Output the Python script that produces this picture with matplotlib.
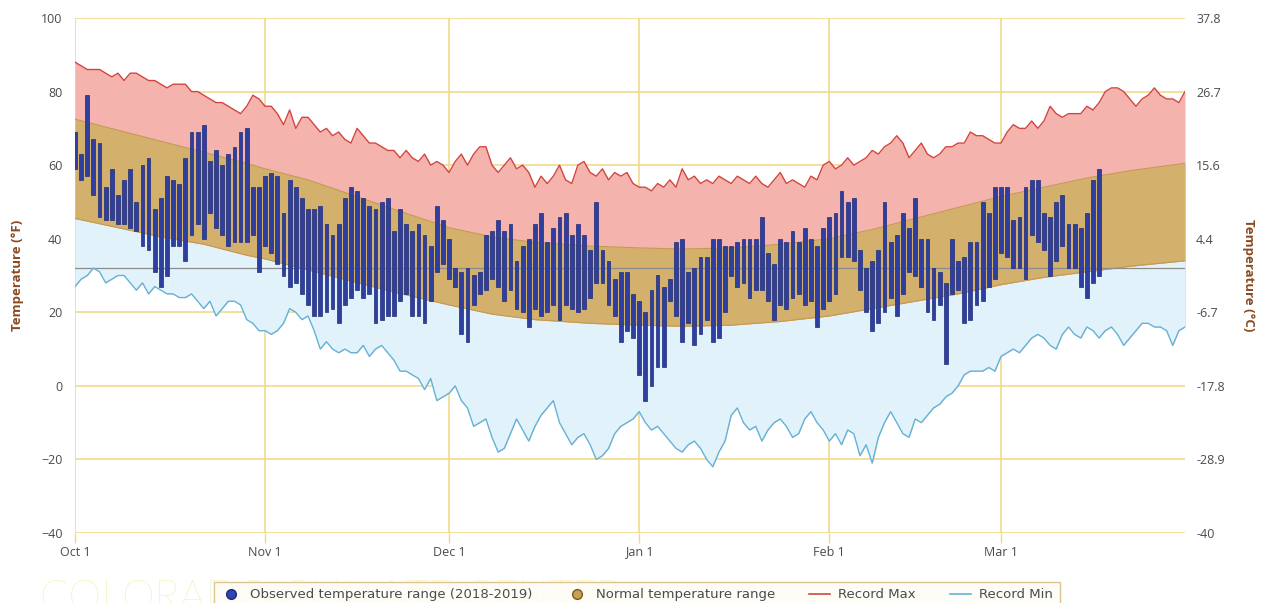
import numpy as np
import pandas as pd
import matplotlib
matplotlib.use("Agg")
import matplotlib.pyplot as plt
from matplotlib.lines import Line2D

# season Oct 1 2018 .. Mar 31 2019, one value per day
days = pd.date_range("2018-10-01", "2019-03-31", freq="D")

record_max = [88, 87, 86, 86, 86, 85, 84, 85, 83, 85, 85, 84, 83, 83, 82, 81, 82, 82, 82, 80,
              80, 79, 78, 77, 77, 76, 75, 74, 76, 79, 78, 76, 76, 74, 71, 75, 70, 73, 73, 71,
              69, 70, 68, 69, 67, 66, 70, 68, 66, 66, 65, 64, 64, 62, 64, 62, 61, 63, 60, 61,
              60, 58, 61, 63, 60, 63, 65, 65, 60, 58, 60, 62, 59, 60, 58, 54, 57, 55, 57, 60,
              56, 55, 60, 61, 58, 57, 59, 56, 58, 57, 58, 55, 54, 54, 53, 55, 54, 56, 54, 59,
              56, 57, 55, 56, 55, 57, 56, 55, 57, 56, 55, 57, 55, 54, 56, 58, 55, 56, 55, 54,
              57, 56, 60, 61, 59, 60, 62, 60, 61, 62, 64, 63, 65, 66, 68, 66, 62, 64, 66, 63,
              62, 63, 65, 65, 66, 66, 69, 68, 68, 67, 66, 66, 69, 71, 70, 70, 72, 70, 72, 76,
              74, 73, 74, 74, 74, 76, 75, 77, 80, 81, 81, 80, 78, 76, 78, 79, 81, 79, 78, 78,
              77, 80]

record_min = [27, 29, 30, 32, 31, 28, 29, 30, 30, 28, 26, 28, 25, 27, 26, 25, 25, 24, 24, 25,
              23, 21, 23, 19, 21, 23, 23, 22, 18, 17, 15, 15, 14, 15, 17, 21, 20, 18, 19, 15,
              10, 12, 10, 9, 10, 9, 9, 11, 8, 10, 11, 9, 7, 4, 4, 3, 2, -1, 2, -4,
              -3, -2, 0, -4, -6, -11, -10, -9, -14, -18, -17, -13, -9, -12, -15, -11, -8, -6, -4, -10,
              -13, -16, -14, -13, -16, -20, -19, -17, -13, -11, -10, -9, -7, -10, -12, -11, -13, -15, -17, -18,
              -16, -15, -17, -20, -22, -18, -15, -8, -6, -10, -12, -11, -15, -12, -10, -9, -11, -14, -13, -9,
              -7, -10, -12, -15, -13, -16, -12, -13, -19, -16, -21, -14, -10, -7, -10, -13, -14, -9, -10, -8,
              -6, -5, -3, -2, 0, 3, 4, 4, 4, 5, 4, 8, 9, 10, 9, 11, 13, 14, 13, 11,
              10, 14, 16, 14, 13, 16, 15, 13, 15, 16, 14, 11, 13, 15, 17, 17, 16, 16, 15, 11,
              15, 16]

# normals
normal_dates = pd.to_datetime(["2018-10-01", "2018-10-08", "2018-10-15", "2018-10-22", "2018-10-29",
                               "2018-11-01", "2018-11-08", "2018-11-15", "2018-11-22", "2018-12-01",
                               "2018-12-08", "2018-12-15", "2018-12-24", "2019-01-01", "2019-01-08",
                               "2019-01-16", "2019-01-24", "2019-02-01", "2019-02-08", "2019-02-15",
                               "2019-02-22", "2019-03-01", "2019-03-08", "2019-03-15", "2019-03-22",
                               "2019-03-31"])
normal_high = [72.5, 69.5, 66.5, 63.5, 60.5, 59, 56, 52, 48, 43, 40.5, 39, 38, 37.5, 37.2,
               37.5, 38.5, 40, 42.5, 45.5, 48.5, 51.5, 54, 56.5, 58.5, 60.5]
normal_low = [45.5, 43, 40.5, 38.5, 35.5, 34.5, 31.5, 28.5, 25.5, 22, 19.5, 18, 17, 16.5, 16.2,
              16.5, 17.5, 19, 21, 23, 25, 27.5, 29.5, 31, 32.5, 34]

# observed 2018-2019, Oct 1 .. Mar 17
obs_high = [69, 63, 79, 67, 66, 54, 59, 52, 56, 59, 50, 60, 62, 48, 51, 57, 56, 55, 62, 69,
            69, 71, 61, 64, 60, 63, 65, 69, 70, 54, 54, 57, 58, 57, 47, 56, 54, 51, 48, 48,
            49, 44, 41, 44, 51, 54, 53, 51, 49, 48, 50, 51, 42, 48, 44, 42, 44, 41, 38, 49,
            45, 40, 32, 31, 32, 30, 31, 41, 42, 45, 42, 44, 34, 38, 40, 44, 47, 39, 43, 46,
            47, 41, 44, 41, 37, 50, 37, 34, 29, 31, 31, 25, 23, 20, 26, 30, 27, 29, 39, 40,
            31, 32, 35, 35, 40, 40, 38, 38, 39, 40, 40, 40, 46, 36, 33, 40, 39, 42, 39, 43,
            40, 38, 43, 46, 47, 53, 50, 51, 37, 32, 34, 37, 50, 39, 41, 47, 43, 51, 40, 40,
            32, 31, 28, 40, 34, 35, 39, 39, 50, 47, 54, 54, 54, 45, 46, 54, 56, 56, 47, 46,
            50, 52, 44, 44, 43, 47, 56, 59]
obs_low = [59, 56, 57, 52, 46, 45, 45, 44, 44, 43, 42, 38, 37, 31, 27, 30, 38, 38, 34, 41,
           44, 40, 47, 43, 41, 38, 39, 39, 39, 41, 31, 38, 36, 33, 30, 27, 28, 25, 22, 19,
           19, 20, 21, 17, 22, 24, 26, 24, 25, 17, 18, 19, 19, 23, 25, 19, 19, 17, 23, 31,
           33, 29, 27, 14, 12, 22, 25, 26, 29, 27, 23, 26, 21, 20, 16, 21, 19, 20, 22, 18,
           22, 21, 20, 21, 24, 28, 28, 22, 19, 12, 15, 13, 3, -4, 0, 5, 5, 23, 19, 12,
           17, 11, 14, 18, 12, 13, 20, 30, 27, 28, 24, 26, 26, 23, 18, 22, 21, 24, 25, 22,
           23, 16, 21, 23, 25, 35, 35, 34, 26, 20, 15, 17, 20, 24, 19, 25, 31, 30, 27, 20,
           18, 22, 6, 25, 26, 17, 18, 22, 23, 27, 29, 36, 35, 32, 32, 29, 41, 39, 37, 30,
           34, 38, 32, 32, 27, 24, 28, 30]

month_ticks = pd.to_datetime(["2018-10-01", "2018-11-01", "2018-12-01", "2019-01-01",
                              "2019-02-01", "2019-03-01"])
month_labels = ["Oct 1", "Nov 1", "Dec 1", "Jan 1", "Feb 1", "Mar 1"]
f_ticks = [100, 80, 60, 40, 20, 0, -20, -40]
c_labels = ["37.8", "26.7", "15.6", "4.4", "-6.7", "-17.8", "-28.9", "-40"]

GRID = "#f1d98b"
TEXT = "#4b4b4b"
AXLAB = "#8a4a22"

plt.rcParams["font.family"] = ["Open Sans", "DejaVu Sans"]

fig = plt.figure(figsize=(12.61, 6.03), dpi=100)
fig.patch.set_facecolor("white")

# faint watermark behind the legend
fig.text(40 / 1261, 1 - 580 / 603, "COLORADO CLIMATE CENTER", fontsize=30,
         color="#ecea9c", family="Lato", fontweight="light", va="top", zorder=0)

ax = fig.add_axes([75 / 1261, 1 - 533 / 603, 1110 / 1261, 515 / 603])
ax.set_facecolor("none")

obs_days = days[:len(obs_high)]

pink = ax.fill_between(days, record_min, record_max, color="#f5b3ad", lw=0, zorder=2)
blue = ax.fill_between(normal_dates, -45, normal_low, color="#e2f2fa", lw=0, zorder=2.1)
blue.set_clip_path(pink.get_paths()[0], transform=ax.transData)
ax.fill_between(normal_dates, normal_low, normal_high, color="#d3b06b", lw=0, zorder=2.2)
ax.plot(normal_dates, normal_high, color="#c49a50", lw=0.8, zorder=2.3)
ax.plot(normal_dates, normal_low, color="#c49a50", lw=0.8, zorder=2.3)

ax.axhline(32, color="#8c8c8c", lw=0.9, zorder=2.5)

ax.plot(days, record_max, color="#d2453f", lw=1.0, zorder=3)
ax.plot(days, record_min, color="#62b3d9", lw=1.0, zorder=3)

obs_high_a = np.array(obs_high, dtype=float)
obs_low_a = np.array(obs_low, dtype=float)
ax.bar(obs_days, obs_high_a - obs_low_a, bottom=obs_low_a, width=0.62,
       color="#2f3f9f", edgecolor="#1f2b78", linewidth=0.5, zorder=4)

ax.set_xlim(days[0], days[-1])
ax.set_ylim(-40, 100)
ax.set_yticks(f_ticks)
ax.set_xticks(month_ticks)
ax.set_xticklabels(month_labels)
ax.grid(True, color=GRID, lw=1.2, zorder=0)
ax.set_axisbelow(True)
for s in ax.spines.values():
    s.set_visible(False)
ax.tick_params(axis="y", length=0, pad=9, labelsize=9, labelcolor=TEXT)
ax.tick_params(axis="x", length=7, width=1, color=GRID, pad=2, labelsize=9, labelcolor=TEXT)
ax.set_ylabel("Temperature (°F)", color=AXLAB, fontsize=9.5, fontweight="bold", labelpad=12)

ax2 = ax.twinx()
ax2.set_ylim(-40, 100)
ax2.set_yticks(f_ticks)
ax2.set_yticklabels(c_labels)
for s in ax2.spines.values():
    s.set_visible(False)
ax2.tick_params(axis="y", length=0, pad=8, labelsize=9, labelcolor=TEXT)
ax2.set_ylabel("Temperature (°C)", color=AXLAB, fontsize=9.5, fontweight="bold",
               rotation=270, labelpad=22)

handles = [
    Line2D([], [], marker="o", ls="none", markersize=7, markerfacecolor="#2f45b0",
           markeredgecolor="#1f2b78"),
    Line2D([], [], marker="o", ls="none", markersize=7, markerfacecolor="#c9a055",
           markeredgecolor="#7a5a20"),
    Line2D([], [], color="#d2453f", lw=1.2),
    Line2D([], [], color="#62b3d9", lw=1.2),
]
labels = ["Observed temperature range (2018-2019)", "Normal temperature range",
          "Record Max", "Record Min"]
leg = fig.legend(handles, labels, loc="upper center", ncol=4,
                 bbox_to_anchor=(637 / 1261, 1 - 575 / 603),
                 prop={"family": "DejaVu Sans", "size": 9.5},
                 frameon=True, fancybox=False, framealpha=0.92, edgecolor="#d8c089",
                 handlelength=1.6, handletextpad=0.6, columnspacing=2.6, borderpad=0.5)
leg.get_frame().set_facecolor("#fdfcf6")
for t in leg.get_texts():
    t.set_color(TEXT)

fig.savefig("out.png", dpi=100)
